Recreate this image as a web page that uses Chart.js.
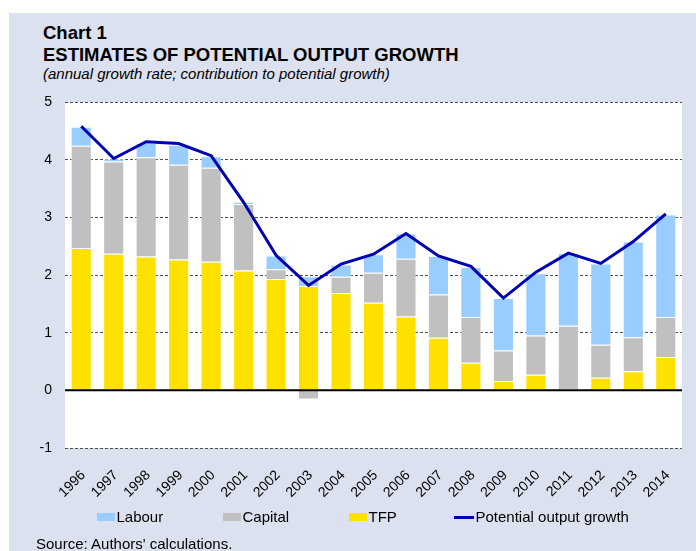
<!DOCTYPE html>
<html>
<head>
<meta charset="utf-8">
<script src="https://cdn.jsdelivr.net/npm/chart.js"></script>
<style>
    html, body { margin: 0; padding: 0; background: #fff; }
    #wrap  { position: relative; width: 696px; height: 551px; overflow: hidden; }
    #panel { position: absolute; left: 9px; top: 13px; right: 0; bottom: 0; background: #dbe1ee; }
    .txt   { position: absolute; left: 43px; white-space: nowrap; color: #000; line-height: 1;
             font-family: 'Liberation Sans', Arial, sans-serif; }
    #t1    { top: 24px; font-size: 18.5px; font-weight: bold; }
    #t2    { top: 46px; font-size: 18.5px; font-weight: bold; }
    #t3    { top: 66px; font-size: 15px; font-style: italic; }
    #src   { left: 36px; top: 536px; font-size: 15px; }
    canvas { position: absolute; left: 0; top: 0; }

    /* legend built from the chart's own legend items */
    #legend { position: absolute; left: 97px; top: 509px; height: 16px; display: flex; align-items: center;
              font-family: 'Liberation Sans', Arial, sans-serif; font-size: 15px; line-height: 16px; color: #000; }
    #legend .item   { display: flex; align-items: center; white-space: nowrap; }
    #legend .swatch { display: inline-block; margin-right: 1.5px; }
</style>
</head>
<body>
<div id="wrap">
    <div id="panel"></div>
    <div class="txt" id="t1">Chart 1</div>
    <div class="txt" id="t2">ESTIMATES OF POTENTIAL OUTPUT GROWTH</div>
    <div class="txt" id="t3">(annual growth rate; contribution to potential growth)</div>
    <canvas id="potChart" width="696" height="551"></canvas>
    <div id="legend"></div>
    <div class="txt" id="src">Source: Authors' calculations.</div>
</div>
<script>
//      Data (percentage points).
var years     = ['1996', '1997', '1998', '1999', '2000', '2001', '2002', '2003', '2004', '2005',
                 '2006', '2007', '2008', '2009', '2010', '2011', '2012', '2013', '2014'];
var tfp       = [2.47, 2.37, 2.32, 2.27, 2.23, 2.08, 1.93, 1.81, 1.69, 1.52,
                 1.28, 0.91, 0.48, 0.16, 0.27, 0.02, 0.22, 0.33, 0.58];
var capital   = [1.77, 1.60, 1.72, 1.64, 1.63, 1.15, 0.17, -0.16, 0.28, 0.52,
                 1.00, 0.75, 0.79, 0.53, 0.68, 1.10, 0.57, 0.59, 0.69];
var labour    = [0.33, 0.04, 0.25, 0.35, 0.20, 0.04, 0.24, 0.17, 0.21, 0.32,
                 0.44, 0.67, 0.87, 0.91, 1.08, 1.26, 1.41, 1.66, 1.78];
var potential = [4.58, 4.02, 4.31, 4.28, 4.07, 3.26, 2.34, 1.82, 2.19, 2.36,
                 2.72, 2.33, 2.15, 1.60, 2.05, 2.38, 2.20, 2.58, 3.06];
var yTicks    = [-1, 0, 1, 2, 3, 4, 5];

//      Colours.
var cLabour  = '#99ccff';
var cCapital = '#c0c0c0';
var cTfp     = '#ffe100';
var cLine    = '#0000b4';

var arial = "'Liberation Sans', Arial, sans-serif";

//      Legend order (Labour, Capital, TFP, line) and slot widths in px.
var legendRank  = { 2: 0, 1: 1, 0: 2, 3: 3 };
var legendSlots = [126, 126, 105, 0];

//      White plot area and the solid zero line.
var plotArea = {
    id: 'plotArea',
    beforeDraw: function(chart) {
        var a = chart.chartArea, c = chart.ctx;
        c.save();
        c.fillStyle = '#fff';
        c.fillRect(a.left, a.top, a.right - a.left, a.bottom - a.top);
        c.restore();
    },
    afterDatasetsDraw: function(chart) {
        var a = chart.chartArea, c = chart.ctx;
        var y0 = chart.scales.y.getPixelForValue(0);
        c.save();
        c.strokeStyle = '#000';
        c.lineWidth = 2;
        c.beginPath();
        c.moveTo(a.left, y0);
        c.lineTo(a.right, y0);
        c.stroke();
        c.restore();
    }
};

//      HTML legend from the chart's legend items.
var htmlLegend = {
    id: 'htmlLegend',
    afterUpdate: function(chart) {
        var box = document.getElementById('legend');
        box.innerHTML = '';
        var items = chart.options.plugins.legend.labels.generateLabels(chart);
        items.sort(function(a, b) { return legendRank[a.datasetIndex] - legendRank[b.datasetIndex]; });
        items.forEach(function(it, i) {
            var item = document.createElement('div');
            item.className = 'item';
            if (legendSlots[i]) item.style.width = legendSlots[i] + 'px';

            var sw = document.createElement('span');
            sw.className = 'swatch';
            var isLine = chart.data.datasets[it.datasetIndex].type === 'line';
            sw.style.width = isLine ? '20px' : '18px';
            sw.style.height = isLine ? '3px' : '8px';
            sw.style.background = isLine ? it.strokeStyle : it.fillStyle;

            var tx = document.createElement('span');
            tx.textContent = it.text;

            item.appendChild(sw);
            item.appendChild(tx);
            box.appendChild(item);
        });
    }
};

function barSet(label, data, colour) {
    return {
        type: 'bar',
        label: label,
        data: data,
        backgroundColor: colour,
        borderColor: 'rgba(255,255,255,0.55)',
        borderWidth: 1,
        stack: 'parts',
        order: 0
    };
}

var ctx = document.getElementById('potChart');
var potChart = new Chart(ctx, {
    data: {
        labels: years,
        datasets: [
            barSet('TFP', tfp, cTfp),
            barSet('Capital', capital, cCapital),
            barSet('Labour', labour, cLabour),
            {
                type: 'line',
                label: 'Potential output growth',
                data: potential,
                borderColor: cLine,
                backgroundColor: cLine,
                borderWidth: 3,
                pointRadius: 0,
                tension: 0,
                fill: false,
                stack: 'total',
                order: -1
            }
        ]
    },
    options: {
        responsive: false,
        animation: false,
        layout: { padding: { top: 102, left: 30, right: 14, bottom: 43 } },
        datasets: { bar: { categoryPercentage: 1, barPercentage: 0.65 } },
        scales: {
            x: {
                stacked: true,
                grid: { display: false },
                border: { display: false },
                ticks: {
                    color: '#000',
                    font: { size: 14, family: arial },
                    minRotation: 45,
                    maxRotation: 45,
                    autoSkip: false,
                    padding: 11,
                    labelOffset: 2
                },
                afterFit: function(s) { s.height = 60; }
            },
            y: {
                stacked: true,
                min: yTicks[0],
                max: yTicks[yTicks.length - 1],
                afterBuildTicks: function(s) {
                    s.ticks = yTicks.map(function(v) { return { value: v }; });
                },
                grid: {
                    drawTicks: false,
                    lineWidth: 1,
                    color: function(c) {
                        return (c.tick && c.tick.value === 0) ? 'rgba(0,0,0,0)' : '#4d4d4d';
                    }
                },
                border: { display: false, dash: [3, 2] },
                ticks: {
                    color: '#000',
                    font: { size: 14, family: arial },
                    padding: 13
                },
                afterFit: function(s) { s.width = 35; }
            }
        },
        plugins: {
            tooltip: { enabled: false },
            legend: { display: false }
        }
    },
    plugins: [plotArea, htmlLegend]
});
</script>
</body>
</html>
